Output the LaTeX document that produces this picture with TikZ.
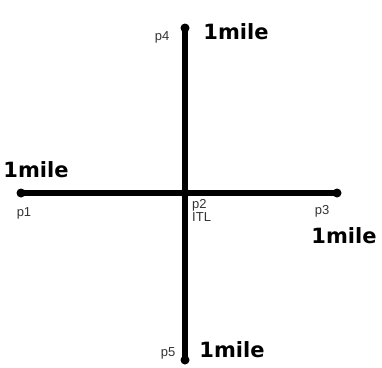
\documentclass[tikz,border=0pt]{standalone}
\usepackage{fontspec}
\setmainfont{Liberation Sans}
\newfontfamily\handfont{DejaVu Sans}
\tikzset{
  road/.style={line width=6pt, line cap=round, black},
  lbl/.style={font=\fontsize{13}{13}\selectfont, inner sep=0pt, text=black!80},
  hand/.style={font=\handfont\bfseries\fontsize{21}{23}\selectfont, inner sep=0pt},
}
\begin{document}
\begin{tikzpicture}[x=1pt,y=-1pt]
\useasboundingbox (0,0) rectangle (382,367);
\coordinate (p1) at (21,193);
\coordinate (p2) at (185,193);
\coordinate (p3) at (337,193);
\coordinate (p4) at (185,28);
\coordinate (p5) at (185,360);
\draw[road] (p2) -- (p1);
\draw[road] (p2) -- (p3);
\draw[road] (p2) -- (p4);
\draw[road] (p2) -- (p5);
\foreach \p in {p1,p2,p3,p4,p5} \fill (\p) circle (4.5pt);
\node[lbl] (l4) at (162,37) {p4};
\node[lbl] (l1) at (24,213) {p1};
\node[lbl, align=left, anchor=north west] (l2) at (192,199) {p2\\ITL};
\node[lbl] (l3) at (322,211) {p3};
\node[lbl] (l5) at (168,353) {p5};
\node[hand] (m4) at (236,32) {1mile};
\node[hand] (m1) at (36,170) {1mile};
\node[hand] (m3) at (344,236) {1mile};
\node[hand] (m5) at (232,350) {1mile};
\end{tikzpicture}
\end{document}
